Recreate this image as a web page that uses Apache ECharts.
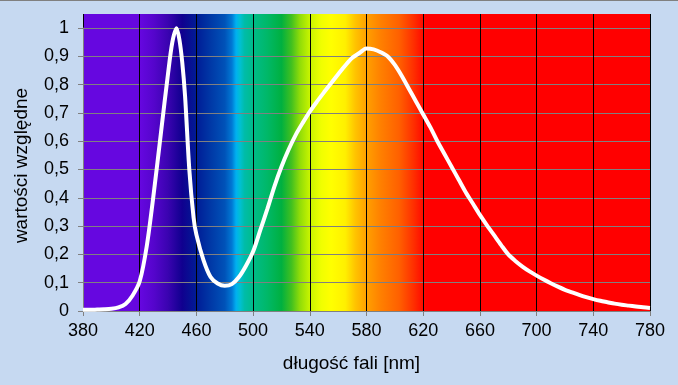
<!DOCTYPE html>
<html>
<head>
<meta charset="utf-8">
<script src="https://cdn.jsdelivr.net/npm/echarts@6/dist/echarts.min.js"></script>
<style>
html,body{margin:0;padding:0;background:#c6d9f1;}
#chart{width:678px;height:385px;}
</style>
</head>
<body>
<div id="chart"></div>
<script>
// wavelengths [nm]
var wavelengths = [380,385,390,395,400,405,410,415,420,425,430,435,440,443,446,448,450,452,455,458,460,465,470,475,480,485,490,495,500,505,510,515,520,525,530,535,540,545,550,555,560,565,570,575,580,585,590,595,600,605,610,615,620,625,630,635,640,645,650,655,660,665,670,675,680,685,690,695,700,705,710,715,720,725,730,735,740,745,750,755,760,765,770,775,780];
// relative values
var values = [0.004,0.004,0.005,0.006,0.008,0.013,0.025,0.055,0.105,0.23,0.42,0.63,0.84,0.95,1.0,0.96,0.88,0.76,0.5,0.33,0.27,0.18,0.12,0.097,0.089,0.095,0.12,0.16,0.21,0.285,0.36,0.44,0.51,0.57,0.622,0.665,0.705,0.74,0.773,0.805,0.837,0.868,0.895,0.912,0.928,0.925,0.915,0.9,0.87,0.83,0.785,0.74,0.695,0.65,0.6,0.555,0.51,0.465,0.42,0.38,0.34,0.303,0.268,0.233,0.2,0.177,0.157,0.14,0.125,0.111,0.098,0.086,0.075,0.066,0.057,0.049,0.042,0.036,0.031,0.026,0.022,0.019,0.016,0.013,0.011];
var xTicks = {min: 380, max: 780, step: 40};
var yTicks = {min: 0, max: 1, step: 0.1};
var xName = 'długość fali [nm]';
var yName = 'wartości względne';

var spectrumStops = [
  [380,'#6607e0'],[420,'#6607e0'],[430,'#5505cc'],[440,'#3a03b0'],[450,'#10008f'],
  [460,'#001c96'],[470,'#0038a6'],[480,'#0052b8'],[485,'#0078d4'],[488,'#00b0f0'],
  [491,'#00c0d0'],[494,'#00bca8'],[500,'#00bc8a'],[510,'#00b868'],[520,'#00b040'],
  [527,'#40c020'],[533,'#90dc08'],[540,'#c8f400'],[548,'#f0ff00'],[555,'#ffff00'],
  [565,'#fff000'],[572,'#ffc400'],[580,'#ffa000'],[590,'#ff8000'],[603,'#ff6000'],
  [613,'#ff3000'],[622,'#ff0000'],[780,'#ff0000']
];

var chart = echarts.init(document.getElementById('chart'));
var gradient = new echarts.graphic.LinearGradient(0,0,1,0, spectrumStops.map(function(s){
  return {offset:(s[0]-xTicks.min)/(xTicks.max-xTicks.min), color:s[1]};
}));
var font = "'Liberation Sans', Arial, sans-serif";
var data = wavelengths.map(function(w,i){return [w, values[i]];});

chart.setOption({
  backgroundColor:'#c6d9f1',
  animation:false,
  graphic:[{type:'rect', shape:{x:0,y:0,width:678,height:1}, style:{fill:'#808080'}, silent:true}],
  grid:[
    {left:83,right:28,top:14,bottom:74,show:true,backgroundColor:gradient,borderWidth:0},
    {left:83,right:28,top:28,bottom:74}
  ],
  xAxis:[
    {gridIndex:0,type:'value',min:xTicks.min,max:xTicks.max,interval:xTicks.step,
     axisLine:{show:false},axisTick:{show:false},axisLabel:{show:false},
     splitLine:{show:true,lineStyle:{color:'#000',width:1}}},
    {gridIndex:1,type:'value',min:xTicks.min,max:xTicks.max,interval:xTicks.step,
     name:xName,nameLocation:'middle',nameGap:43,
     nameTextStyle:{color:'#000',fontSize:19,fontFamily:font,padding:[0,30,0,0]},
     axisLine:{show:true,lineStyle:{color:'#808080',width:1}},
     axisTick:{show:true,length:5,lineStyle:{color:'#808080'}},
     axisLabel:{color:'#000',fontSize:18,fontFamily:font,margin:11},
     splitLine:{show:false}}
  ],
  yAxis:[
    {gridIndex:0,type:'value',min:0,max:1.05,show:false,splitLine:{show:false}},
    {gridIndex:1,type:'value',min:yTicks.min,max:yTicks.max,interval:yTicks.step,
     name:yName,nameLocation:'middle',nameGap:52,
     nameTextStyle:{color:'#000',fontSize:19,fontFamily:font,padding:[0,0,0,8]},
     axisLine:{show:true,lineStyle:{color:'#808080',width:1}},
     axisTick:{show:true,length:5,lineStyle:{color:'#808080'}},
     axisLabel:{color:'#000',fontSize:18,fontFamily:font,margin:14,
       formatter:function(v){return String(Number(v.toFixed(1))).replace('.',',');}},
     splitLine:{show:true,lineStyle:{color:'#808080',width:1}}}
  ],
  series:[{
    type:'line',xAxisIndex:0,yAxisIndex:0,data:data,smooth:0.3,showSymbol:false,
    clip:false,z:5,lineStyle:{color:'#ffffff',width:4}
  }]
});
</script>
</body>
</html>
